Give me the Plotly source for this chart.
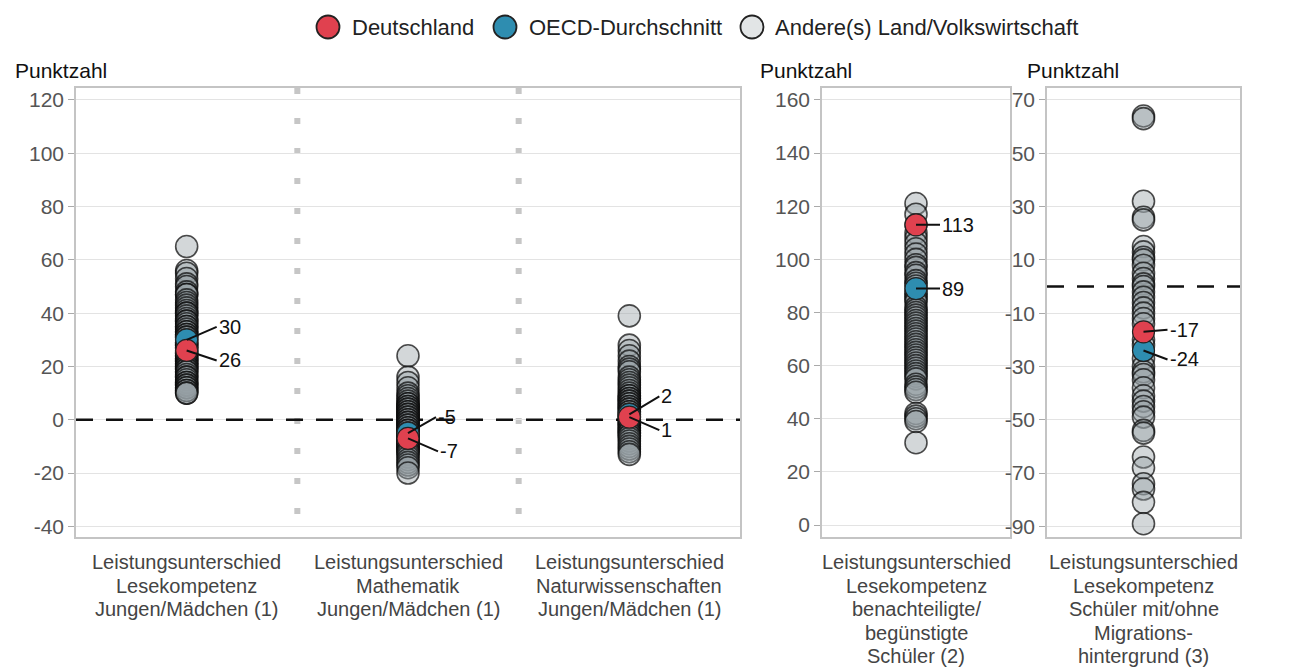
import plotly.graph_objects as go

# ---------------- data ----------------
cat_labels_left = [
    ["Leistungsunterschied", "Lesekompetenz", "Jungen/Mädchen (1)"],
    ["Leistungsunterschied", "Mathematik", "Jungen/Mädchen (1)"],
    ["Leistungsunterschied", "Naturwissenschaften", "Jungen/Mädchen (1)"],
]
cat_label_ses = ["Leistungsunterschied", "Lesekompetenz", "benachteiligte/", "begünstigte", "Schüler (2)"]
cat_label_mig = ["Leistungsunterschied", "Lesekompetenz", "Schüler mit/ohne", "Migrations-", "hintergrund (3)"]
legend_names = ["Deutschland", "OECD-Durchschnitt", "Andere(s) Land/Volkswirtschaft"]
y_title = "Punktzahl"
ticks_left = list(range(-40, 121, 20))
ticks_ses = list(range(0, 161, 20))
ticks_mig = list(range(-90, 71, 20))

reading_gender = [65, 56, 55, 53, 51, 50, 48, 47, 47, 45, 44, 43, 42, 41, 40, 40, 39, 38, 37, 37,
                  36, 35, 35, 34, 33, 33, 32, 32, 31, 31, 30, 29, 29, 28, 28, 27, 27, 26, 25, 25,
                  24, 24, 23, 23, 22, 22, 21, 21, 20, 20, 19, 19, 18, 18, 17, 16, 16, 15, 14, 14,
                  13, 13, 12, 12, 11, 11, 10, 10]
math_gender = [24, 16, 14, 12, 10, 9, 8, 7, 6, 6, 5, 5, 4, 4, 3, 3, 2, 2, 1, 1, 0, 0, -1, -1,
               -2, -2, -3, -3, -4, -4, -5, -5, -6, -6, -7, -7, -8, -8, -9, -9, -10, -10, -11,
               -11, -12, -12, -13, -14, -15, -16, -17, -18, -20]
science_gender = [39, 28, 26, 24, 22, 20, 19, 18, 16, 15, 14, 13, 12, 11, 10, 9, 9, 8, 8, 7, 7,
                  6, 6, 5, 5, 4, 4, 3, 3, 2, 2, 1, 1, 0, 0, -1, -1, -2, -2, -3, -3, -4, -4, -5,
                  -5, -6, -6, -7, -8, -9, -10, -11, -12, -13]
ses_gap = [121, 117, 113, 110, 108, 106, 104, 102, 100, 98, 97, 95, 94, 92, 91, 90, 88, 87, 86,
           85, 84, 82, 81, 80, 79, 78, 77, 76, 75, 74, 73, 72, 71, 70, 69, 68, 67, 66, 65, 64,
           63, 62, 61, 60, 59, 58, 57, 56, 55, 53, 52, 51, 50, 42, 41, 40, 39, 31]
migration_gap = [64, 63, 32, 26, 25, 15, 13, 11, 10, 8, 5, 3, 1, 0, -2, -4, -6, -8, -10, -12,
                 -14, -20, -22, -27, -30, -32, -33, -35, -38, -41, -43, -45, -47, -49, -54, -55,
                 -64, -68, -74, -76, -81, -89]

germany_left = [26, -7, 1]
oecd_left = [30, -5, 2]
germany_ses, oecd_ses = 113, 89
germany_mig, oecd_mig = -17, -24
reference_value = 0  # dashed zero line

# ---------------- style ----------------
FONT = "Liberation Sans, Arial, sans-serif"
RED = "#e0414f"
TEAL = "#2e8db0"
LEG_GRAY = "#e2e5e6"
GRAY_FILL = "rgba(150,160,164,0.42)"
GRAY_LINE = "rgba(10,10,10,0.72)"
MS = 22

W, H = 1292, 669
def px_x(p): return p / W
def px_y(p): return 1 - p / H

fig = go.Figure()

def zero_line(xa, ya, xr):
    fig.add_trace(go.Scatter(
        x=list(xr), y=[reference_value, reference_value], xaxis=xa, yaxis=ya, mode="lines",
        showlegend=False, hoverinfo="skip",
        line=dict(color="#111", width=2.5, dash="17px,13px")))

def others(xs, ys, xa, ya):
    fig.add_trace(go.Scatter(
        x=xs, y=ys, xaxis=xa, yaxis=ya, mode="markers", name=legend_names[2], showlegend=False,
        marker=dict(size=MS, color=GRAY_FILL, line=dict(color=GRAY_LINE, width=1.6)),
        hoverinfo="y"))

def special(xs, ys, xa, ya, color, name):
    fig.add_trace(go.Scatter(
        x=xs, y=ys, xaxis=xa, yaxis=ya, mode="markers", name=name, showlegend=False,
        marker=dict(size=MS, color=color, line=dict(color="#222", width=1.2)),
        hoverinfo="y"))

# panel 1
zero_line("x", "y", (-0.5, 2.5))
others([0] * len(reading_gender) + [1] * len(math_gender) + [2] * len(science_gender),
       reading_gender + math_gender + science_gender, "x", "y")
special([0, 1, 2], oecd_left, "x", "y", TEAL, legend_names[1])
special([0, 1, 2], germany_left, "x", "y", RED, legend_names[0])
# panel 2
others([0] * len(ses_gap), ses_gap, "x2", "y2")
special([0], [oecd_ses], "x2", "y2", TEAL, legend_names[1])
special([0], [germany_ses], "x2", "y2", RED, legend_names[0])
# panel 3
zero_line("x3", "y3", (-0.5, 0.5))
others([0] * len(migration_gap), migration_gap, "x3", "y3")
special([0], [oecd_mig], "x3", "y3", TEAL, legend_names[1])
special([0], [germany_mig], "x3", "y3", RED, legend_names[0])

# ---------------- axes ----------------
ydom = [px_y(537), px_y(88)]
axis_common = dict(showline=True, mirror=True, linecolor="#c4c4c4", linewidth=1.5, zeroline=False)
ytick_font = dict(family=FONT, size=21, color="#555555")
yax = dict(showgrid=True, gridcolor="#e3e3e3", ticks="outside", ticklen=6, tickcolor="#aaa",
           tickfont=ytick_font, **axis_common)
xax = dict(showgrid=False, ticks="", showticklabels=False, **axis_common)

fig.update_layout(
    xaxis=dict(domain=[px_x(76), px_x(740)], range=[-0.5, 2.5], anchor="y", **xax),
    yaxis=dict(domain=ydom, range=[-44, 124.5], tickvals=ticks_left,
               ticktext=[str(v) for v in ticks_left], anchor="x", **yax),
    xaxis2=dict(domain=[px_x(822), px_x(1010)], range=[-0.5, 0.5], anchor="y2", **xax),
    yaxis2=dict(domain=ydom, range=[-4.5, 164.5], tickvals=ticks_ses,
                ticktext=[str(v) for v in ticks_ses], anchor="x2", **yax),
    xaxis3=dict(domain=[px_x(1047), px_x(1240)], range=[-0.5, 0.5], anchor="y3", **xax),
    yaxis3=dict(domain=ydom, range=[-94, 74.5], tickvals=ticks_mig,
                ticktext=[str(v) for v in ticks_mig], anchor="x3", **yax),
)

# ---------------- shapes ----------------
shapes = []
for xs in [0.5, 1.5]:
    shapes.append(dict(type="line", xref="x", yref="y domain", x0=xs, x1=xs, y0=1, y1=0,
                       line=dict(color="#c6c6c6", width=6, dash="6px,24px"), layer="below"))

# manual legend
ann = []
leg_y = 27
R = 11.5
for cx, tx, col, nm in [(328, 350, RED, legend_names[0]), (505, 527, TEAL, legend_names[1]),
                        (752, 773, LEG_GRAY, legend_names[2])]:
    shapes.append(dict(type="circle", xref="paper", yref="paper",
                       x0=px_x(cx - R), x1=px_x(cx + R), y0=px_y(leg_y + R), y1=px_y(leg_y - R),
                       fillcolor=col, line=dict(color="#222", width=1.8), layer="above"))
    ann.append(dict(x=px_x(tx), y=px_y(leg_y), xref="paper", yref="paper", text=nm,
                    showarrow=False, xanchor="left", yanchor="middle",
                    font=dict(family=FONT, size=22, color="#222")))
fig.update_layout(shapes=shapes)

# ---------------- annotations ----------------
def lab(x, y, xa, ya, text, ax, ay):
    ann.append(dict(x=x, y=y, xref=xa, yref=ya, text=text, showarrow=True, arrowhead=0,
                    arrowwidth=2, arrowcolor="#111", ax=ax, ay=ay, xanchor="left",
                    yanchor="middle", standoff=0, startstandoff=0,
                    font=dict(family=FONT, size=20, color="#111")))

lab(0, oecd_left[0], "x", "y", str(oecd_left[0]), 30, -13)
lab(0, germany_left[0], "x", "y", str(germany_left[0]), 30, 10)
lab(1, oecd_left[1], "x", "y", str(oecd_left[1]), 28, -16)
lab(1, germany_left[1], "x", "y", str(germany_left[1]), 30, 13)
lab(2, oecd_left[2], "x", "y", str(oecd_left[2]), 30, -18)
lab(2, germany_left[2], "x", "y", str(germany_left[2]), 30, 13)
lab(0, germany_ses, "x2", "y2", str(germany_ses), 24, 0)
lab(0, oecd_ses, "x2", "y2", str(oecd_ses), 24, 0)
lab(0, germany_mig, "x3", "y3", str(germany_mig), 24, -2)
lab(0, oecd_mig, "x3", "y3", str(oecd_mig), 24, 9)

for xp in [13, 758, 1025]:
    ann.append(dict(x=px_x(xp), y=px_y(70), xref="paper", yref="paper", text=y_title,
                    showarrow=False, xanchor="left", yanchor="middle",
                    font=dict(family=FONT, size=21, color="#111")))

# category labels (one annotation per line for exact line spacing)
def cat_label(lines, xval, xa):
    for i, t in enumerate(lines):
        ann.append(dict(x=xval, y=px_y(562 + 23.5 * i), xref=xa, yref="paper", text=t,
                        showarrow=False, xanchor="center", yanchor="middle",
                        font=dict(family=FONT, size=20, color="#444")))

for i, lines in enumerate(cat_labels_left):
    cat_label(lines, i, "x")
cat_label(cat_label_ses, 0, "x2")
cat_label(cat_label_mig, 0, "x3")

fig.update_layout(annotations=ann)

fig.update_layout(
    width=W, height=H, margin=dict(l=0, r=0, t=0, b=0, autoexpand=False),
    paper_bgcolor="white", plot_bgcolor="white", showlegend=False,
    font=dict(family=FONT),
)

fig.write_html("out.html", config={"displayModeBar": False},
               post_script="document.body.style.margin='0px';")
